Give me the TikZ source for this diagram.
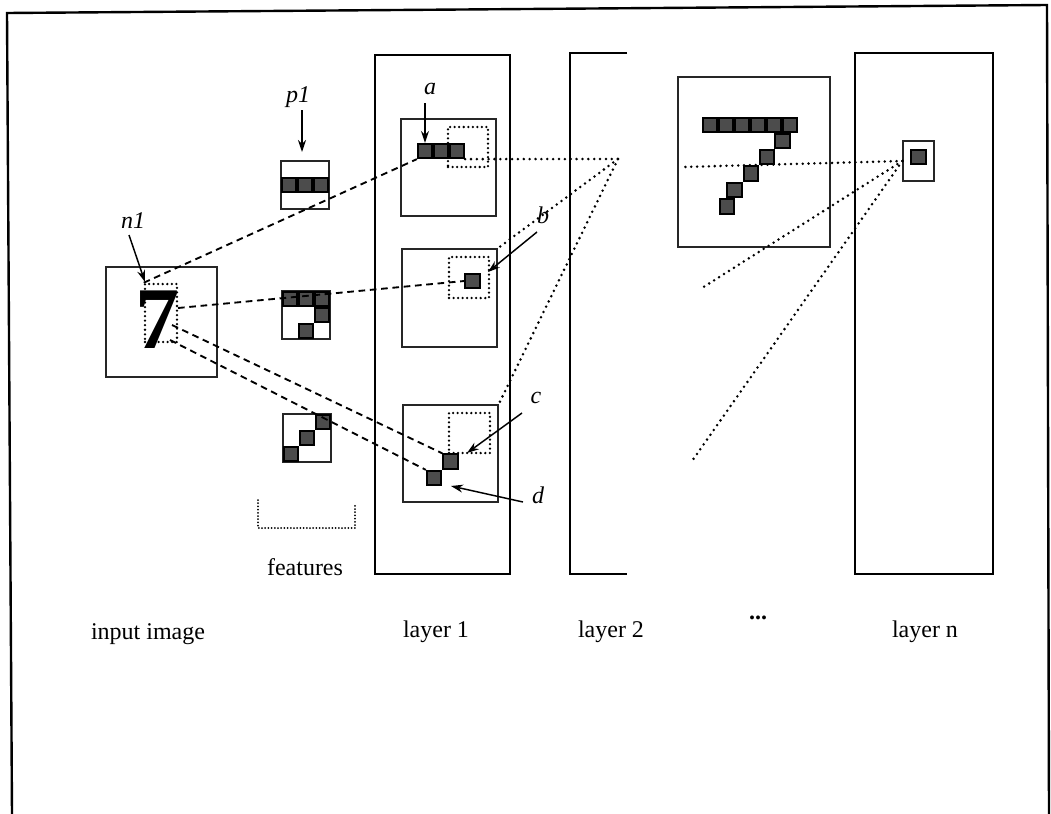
\documentclass[tikz,border=0pt]{standalone}
\usepackage{fontspec}
\setmainfont{Liberation Serif}
\usetikzlibrary{arrows.meta,fit}
\begin{document}
\begin{tikzpicture}[x=0.75pt,y=-0.75pt,
 frame/.style={draw=black,line width=1.8pt},
 lay/.style={draw=black,line width=1.1pt},
 ibox/.style={draw=black!85,line width=0.9pt,inner sep=0pt},
 dbox/.style={draw=black,line width=1.9pt,line cap=round,dash pattern=on 0pt off 3.4pt,inner sep=0pt},
 blk/.style={draw=black,line width=1.4pt,fill=black!70,minimum size=10.8pt,inner sep=0pt},
 dsh/.style={draw=black,line width=1.4pt,dash pattern=on 5pt off 3.5pt},
 dtt/.style={draw=black,line width=2.1pt,line cap=round,dash pattern=on 0pt off 4.4pt},
 fdt/.style={draw=black,line width=1.5pt,line cap=round,dash pattern=on 0pt off 2.4pt},
 arr/.style={draw=black,line width=1.1pt,-{Stealth[length=9pt,width=6pt]}},
 lbl/.style={font=\fontsize{18}{18}\selectfont\itshape,inner sep=1pt},
 captxt/.style={font=\fontsize{18}{18}\selectfont,inner sep=1pt}
]
\useasboundingbox (0,0) rectangle (1051,814);
% outer frame
\draw[frame] (12,814) -- (7,13) -- (1047,5) -- (1049,814);

% input image
\node[fit={(106,267)(217,377)},ibox] (inp) {};
\node[inner sep=0pt,font=\fontsize{66}{66}\selectfont\bfseries] (seven) at (157,320) {7};
\node[fit={(145,284)(177,342)},dbox] (rf) {};

% feature boxes
\node[fit={(281,161)(329,209)},ibox] (f1) {};
\node[fit={(282,291)(330,339)},ibox] (f2) {};
\node[fit={(283,414)(331,462)},ibox] (f3) {};
\foreach \x/\y [count=\i] in {289/185,305/185,321/185,290/299,306/299,322/299,322/315,306/331,323/422,307/438,291/454}
  \node[blk] (fb\i) at (\x,\y) {};
\draw[fdt] (258,500) -- (258,528) -- (355,528) -- (355,503);

% layer 1
\node[fit={(375,55)(510,574)},lay,inner sep=0pt] (L1) {};
\node[fit={(401,119)(496,216)},ibox] (L1a) {};
\node[fit={(402,249)(497,347)},ibox] (L1b) {};
\node[fit={(403,405)(498,502)},ibox] (L1c) {};
\node[fit={(448,127)(488,167)},dbox] (da) {};
\node[fit={(449,257)(489,298)},dbox] (db) {};
\node[fit={(449,413)(490,453)},dbox] (dc) {};
\node[blk] (a1) at (425,151) {};
\node[blk] (a2) at (441,151) {};
\node[blk] (a3) at (457,151) {};
\node[blk] (b) at (472.5,281) {};
\node[blk] (c) at (450.5,461.5) {};
\node[blk] (d) at (434,478) {};

% layer 2 (open)
\coordinate (l2a) at (627,53);
\coordinate (l2b) at (570,53);
\coordinate (l2c) at (570,574);
\coordinate (l2d) at (627,574);
\draw[lay] (l2a) -- (l2b) -- (l2c) -- (l2d);

% intermediate 7 box
\node[fit={(678,77)(830,247)},ibox] (sb) {};
\foreach \x/\y [count=\i] in {710/125,726/125,742/125,758/125,774/125,790/125,782.5/141,767/157,751/173.5,734.5/190,727/206.5}
  \node[blk] (s\i) at (\x,\y) {};

% layer n
\node[fit={(855,53)(993,574)},lay,inner sep=0pt] (Ln) {};
\node[fit={(903,141)(934,181)},ibox] (ln) {};
\node[blk] (nb) at (918.5,157) {};

% dashed connectors from input
\coordinate (s3) at (172,325);
\coordinate (s4) at (170,340);
\coordinate (s2) at (178,308);
\draw[dsh] (rf.north west) -- (a1.south west);
\draw[dsh] (s2) -- (b.west);
\draw[dsh] (s3) -- (c.north west);
\draw[dsh] (s4) -- (d.north west);

% dotted connectors layer 1 -> layer 2
\coordinate (ap1) at (618,159);
\draw[dtt] (a3.south east) -- (ap1);
\draw[dtt] (ap1) -- (L1b.north east);
\draw[dtt] (ap1) -- (L1c.north east);

% dotted connectors layer n
\coordinate (e1) at (683,167);
\coordinate (e2) at (702,288);
\coordinate (e3) at (692,461);
\draw[dtt] (ln.west) -- (e1);
\draw[dtt] (ln.west) -- (e2);
\draw[dtt] (ln.west) -- (e3);

% labels and arrows
\node[lbl] (ln1) at (133,221) {n1};
\node[lbl] (lp1) at (298,97) {p1};
\node[lbl] (la) at (430,89) {a};
\node[lbl] (lb) at (543,215) {b};
\node[lbl] (lc) at (536,398) {c};
\node[lbl] (lde) at (538,495) {d};
\coordinate (tn) at (145,282);
\coordinate (tp) at (302,152);
\coordinate (tb) at (488,272);
\coordinate (tc) at (467,453);
\coordinate (td) at (451,486);
\coordinate (sn) at (129,235);
\coordinate (sp) at (302,110);
\coordinate (sa) at (425,103);
\coordinate (sbb) at (537,232);
\coordinate (sc) at (522,413);
\coordinate (sd) at (523,502);
\draw[arr] (sn) -- (tn);
\draw[arr] (sp) -- (tp);
\draw[arr] (sa) -- (a1.north);
\draw[arr] (sbb) -- (tb);
\draw[arr] (sc) -- (tc);
\draw[arr] (sd) -- (td);

% captions
\node[captxt] (cf) at (305,567) {features};
\node[captxt] (c0) at (148,634) {input image};
\node[captxt] (c1) at (436,632) {layer 1};
\node[captxt] (c2) at (611,632) {layer 2};
\node[captxt,font=\fontsize{18}{18}\selectfont\bfseries] (cd) at (758,618) {...};
\node[captxt] (cn) at (925,632) {layer n};
\end{tikzpicture}
\end{document}
